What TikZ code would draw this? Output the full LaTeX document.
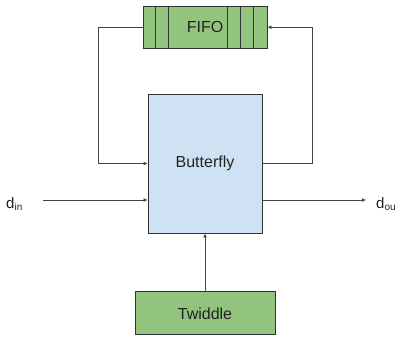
\documentclass[tikz,border=0pt]{standalone}
\usepackage{fontspec}
\setmainfont{Liberation Sans}
\usepackage{tikz}
\usetikzlibrary{arrows.meta, positioning}
\definecolor{edge}{HTML}{333333}
\definecolor{wire}{HTML}{444444}
\definecolor{inkdark}{HTML}{222222}
\definecolor{greenfill}{HTML}{93C47D}
\definecolor{bluefill}{HTML}{CFE2F3}
\newcommand{\blocktext}{\fontsize{16}{19}\selectfont}
\newcommand{\sig}[2]{{\fontsize{15}{18}\selectfont #1}\raisebox{-0.45ex}{\fontsize{10}{12}\selectfont #2}}
\tikzset{
  block/.style={draw=edge, line width=0.8pt, text=inkdark, font=\blocktext, inner sep=0pt},
  unit/.style={block, fill=bluefill, minimum width=114pt, minimum height=139pt},
  store/.style={block, fill=greenfill, minimum width=124pt, minimum height=42pt},
  coef/.style={block, fill=greenfill, minimum width=140pt, minimum height=43pt},
  port/.style={text=inkdark, inner sep=0pt, anchor=base west},
  flow/.style={draw=wire, line width=0.8pt, -{Latex[length=4pt, width=4pt]}},
}
\begin{document}
\begin{tikzpicture}[x=1pt, y=-1pt, node distance=45pt]
\useasboundingbox (0,0) rectangle (399,337);
\node[unit] (bfly) at (205,163.5) {Butterfly};
\node[store, above=of bfly] (fifo) {FIFO};
\node[coef, below=58pt of bfly] (twid) {Twiddle};
\node[port] (din) at (6,208) {\sig{d}{in}};
\node[port] (dout) at (376,208) {\sig{d}{ou}};
\coordinate (inpt) at (43,200);
\coordinate (outpt) at (366,200);
% slots of the fifo
\foreach \d in {13,26}
  \draw[edge, line width=0.8pt] ([xshift=\d pt]fifo.north west) -- ([xshift=\d pt]fifo.south west);
\foreach \d in {14,27,40}
  \draw[edge, line width=0.8pt] ([xshift=-\d pt]fifo.north east) -- ([xshift=-\d pt]fifo.south east);
\draw[flow] (fifo.west) -- ++(-44,0) |- (bfly.west);
\draw[flow] (bfly.east) -- ++(50,0) |- (fifo.east);
\draw[flow] (inpt) -- (bfly.west |- inpt);
\draw[flow] (bfly.east |- outpt) -- (outpt);
\draw[flow] (twid) -- (bfly);
\end{tikzpicture}
\end{document}
